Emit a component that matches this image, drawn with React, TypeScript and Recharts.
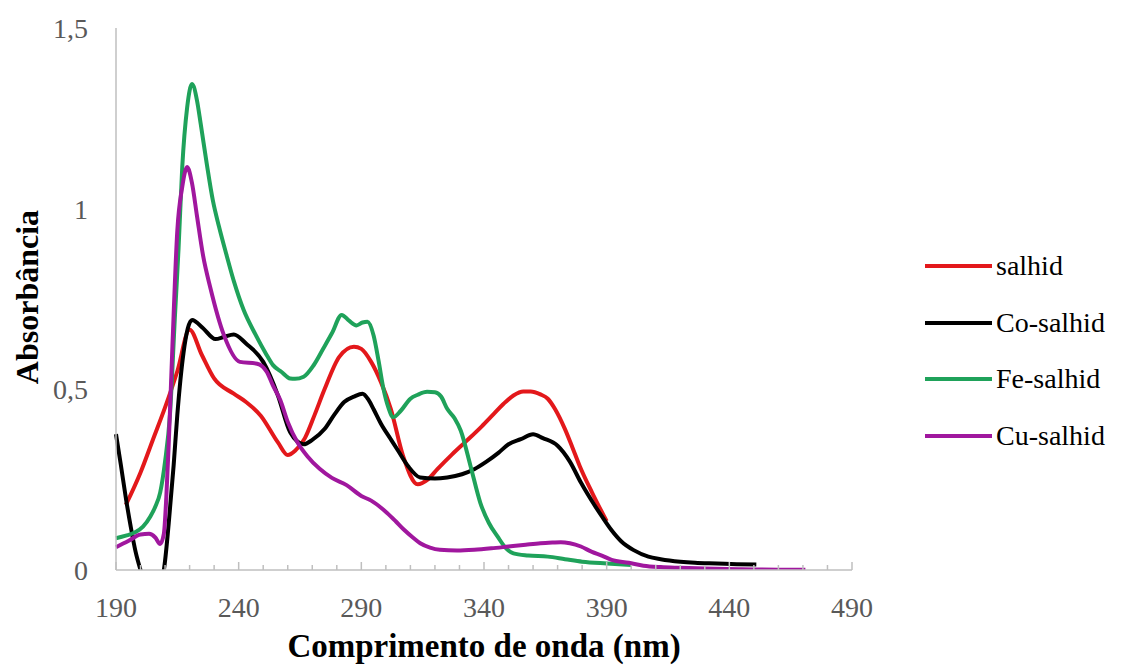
import { LineChart, Line, XAxis, YAxis, Label } from 'recharts';

// wavelengths (nm) and absorbance, one pair of arrays per compound
const salhidNm = [194, 200, 205, 210, 215, 220, 225, 230, 238, 243, 249, 256, 260, 263, 267, 271, 275, 281, 287, 290, 294, 298, 302, 307, 313, 317, 321, 327, 333, 339, 344, 348, 352, 356, 359, 363, 366, 369, 373, 376, 379, 384, 390];
const salhidAbs = [0.18, 0.27, 0.36, 0.45, 0.55, 0.665, 0.595, 0.53, 0.488, 0.465, 0.427, 0.353, 0.318, 0.33, 0.365, 0.43, 0.5, 0.59, 0.618, 0.612, 0.576, 0.52, 0.446, 0.316, 0.237, 0.25, 0.279, 0.32, 0.358, 0.397, 0.432, 0.46, 0.483, 0.494, 0.494, 0.486, 0.474, 0.445, 0.39, 0.34, 0.288, 0.215, 0.135];

const coNm = [190, 192, 194, 196, 198, 200, 202, 205, 208, 209.5, 211.5, 213.5, 215, 217.5, 221, 225.5, 230.5, 234, 238, 243, 250, 256, 261, 266.5, 270, 275, 279, 283, 287, 290.5, 293, 295, 298, 302, 305, 309, 314, 320, 325, 331, 336, 341, 346, 350, 355, 360, 364, 370, 375, 379.5, 385, 388, 392, 396, 401, 407, 412, 420, 426, 435, 443, 451];
const coAbs = [0.376, 0.29, 0.2, 0.12, 0.05, 0.0, -0.04, -0.06, -0.03, 0.0, 0.13, 0.29, 0.43, 0.6, 0.692, 0.669, 0.639, 0.645, 0.652, 0.627, 0.576, 0.483, 0.381, 0.348, 0.36, 0.39, 0.43, 0.465, 0.48, 0.488, 0.47, 0.445, 0.405, 0.362, 0.33, 0.288, 0.256, 0.253, 0.256, 0.265, 0.279, 0.3, 0.325, 0.348, 0.362, 0.376, 0.365, 0.344, 0.3, 0.242, 0.18, 0.149, 0.11, 0.079, 0.055, 0.037, 0.03, 0.023, 0.02, 0.018, 0.016, 0.015];

const feNm = [190, 194, 198, 201, 204, 206, 208, 210, 212, 214, 215.5, 217, 219, 221, 223, 224.5, 227, 229.5, 232, 235, 238, 242, 247, 251, 254, 257.5, 261, 263, 266.5, 270.5, 274.5, 278, 282, 285, 288, 290.5, 292.5, 295, 297, 299, 301, 303, 306, 310, 313, 316.8, 320, 322.5, 325, 328, 330.5, 334.5, 338.5, 342, 345.5, 349, 352, 358, 366, 373, 380, 390, 400];
const feAbs = [0.088, 0.095, 0.105, 0.12, 0.148, 0.175, 0.214, 0.3, 0.43, 0.7, 0.89, 1.115, 1.28, 1.345, 1.3, 1.236, 1.124, 1.022, 0.95, 0.873, 0.8, 0.72, 0.65, 0.6, 0.567, 0.548, 0.53, 0.529, 0.535, 0.566, 0.613, 0.655, 0.706, 0.69, 0.677, 0.685, 0.687, 0.649, 0.58, 0.502, 0.45, 0.423, 0.44, 0.474, 0.485, 0.493, 0.492, 0.48, 0.446, 0.42, 0.386, 0.288, 0.186, 0.13, 0.093, 0.06, 0.046, 0.04, 0.037, 0.03, 0.023, 0.018, 0.014];

const cuNm = [190, 195, 200, 203.5, 206, 208, 209.5, 210.5, 211.5, 213, 215, 217, 219, 221, 223, 225.5, 228.5, 234, 240.5, 247.5, 251.5, 254, 257, 260, 264, 268, 273, 278, 284, 290, 294, 300.5, 304, 307.3, 311, 314, 318, 322, 329, 336, 343, 350, 357, 363, 368, 371.3, 375, 379.5, 384, 388, 392, 399, 405, 412, 420, 430, 445, 460, 471];
const cuAbs = [0.063, 0.08, 0.098, 0.1, 0.09, 0.072, 0.1, 0.2, 0.35, 0.62, 0.94, 1.06, 1.115, 1.07, 0.98, 0.87, 0.78, 0.65, 0.576, 0.571, 0.548, 0.51, 0.47, 0.41, 0.353, 0.315, 0.28, 0.255, 0.235, 0.205, 0.192, 0.158, 0.135, 0.112, 0.09, 0.074, 0.062, 0.056, 0.054, 0.056, 0.06, 0.065, 0.07, 0.074, 0.076, 0.077, 0.074, 0.065, 0.05, 0.04, 0.028, 0.02, 0.012, 0.008, 0.006, 0.004, 0.002, 0.001, 0.001];

const xTicks = [190, 200, 210, 220, 230, 240, 250, 260, 270, 280, 290, 300, 310, 320, 330, 340, 350, 360, 370, 380, 390, 400, 410, 420, 430, 440, 450, 460, 470, 480, 490];
const yTicks = [0, 0.5, 1, 1.5];

const toPoints = (nm: number[], abs: number[]) => nm.map((w, i) => ({ w, a: abs[i] }));

const series = [
  { name: 'salhid', color: '#E3181B', data: toPoints(salhidNm, salhidAbs) },
  { name: 'Co-salhid', color: '#000000', data: toPoints(coNm, coAbs) },
  { name: 'Fe-salhid', color: '#1FA25A', data: toPoints(feNm, feAbs) },
  { name: 'Cu-salhid', color: '#A0179E', data: toPoints(cuNm, cuAbs) },
];

const serif = '"Liberation Serif", "Times New Roman", serif';
const axisGrey = '#BFBFBF';

const XTick = (props: any) => {
  const { x, y, payload } = props;
  const major = (payload.value - 190) % 50 === 0;
  return (
    <g>
      <line x1={x} x2={x} y1={y} y2={y - (major ? 8 : 5)} stroke={axisGrey} strokeWidth={1.5} />
      {major && (
        <text x={x} y={y + 47} textAnchor="middle" fill="#595959" fontSize={28} fontFamily={serif}>
          {payload.value}
        </text>
      )}
    </g>
  );
};

// legend sits to the right of the plot, drawn as plain html
const LegendBox = () => (
  <div style={{ position: 'absolute', left: 925, top: 238, fontFamily: serif, fontSize: 28, color: '#000' }}>
    {series.map(s => (
      <div key={s.name} style={{ display: 'flex', alignItems: 'center', height: 56.5 }}>
        <span style={{ display: 'inline-block', width: 67, height: 4, background: s.color, marginRight: 4 }} />
        <span>{s.name}</span>
      </div>
    ))}
  </div>
);

export default function App() {
  return (
    <div style={{ position: 'absolute', left: 0, top: 0, width: 1130, height: 669, background: '#fff' }}>
      <LineChart width={1130} height={669} margin={{ top: 28, right: 278, bottom: 0, left: 0 }}>
        <XAxis
          type="number"
          dataKey="w"
          domain={[190, 490]}
          ticks={xTicks}
          interval={0}
          height={99}
          tickSize={0}
          tickMargin={0}
          tickLine={false}
          tick={<XTick />}
          axisLine={{ stroke: axisGrey, strokeWidth: 1.5 }}
        >
          <Label
            value="Comprimento de onda (nm)"
            position="insideBottom"
            offset={12}
            style={{ fontFamily: serif, fontSize: 33, fontWeight: 'bold', fill: '#000' }}
          />
        </XAxis>
        <YAxis
          type="number"
          domain={[0, 1.5]}
          ticks={yTicks}
          allowDataOverflow
          width={116}
          tickSize={0}
          tickMargin={28}
          tickLine={false}
          tickFormatter={(v: number) => String(v).replace('.', ',')}
          tick={{ fill: '#595959', fontSize: 28, fontFamily: serif }}
          axisLine={{ stroke: axisGrey, strokeWidth: 1.5 }}
        >
          <Label
            content={() => (
              <text
                x={27}
                y={297}
                transform="rotate(-90 27 297)"
                textAnchor="middle"
                dominantBaseline="central"
                fontFamily={serif}
                fontSize={32}
                fontWeight="bold"
                fill="#000"
              >
                Absorbância
              </text>
            )}
          />
        </YAxis>
        {series.map(s => (
          <Line
            key={s.name}
            data={s.data}
            dataKey="a"
            name={s.name}
            type="monotone"
            stroke={s.color}
            strokeWidth={4}
            dot={false}
            activeDot={false}
            isAnimationActive={false}
          />
        ))}
      </LineChart>
      <LegendBox />
    </div>
  );
}
